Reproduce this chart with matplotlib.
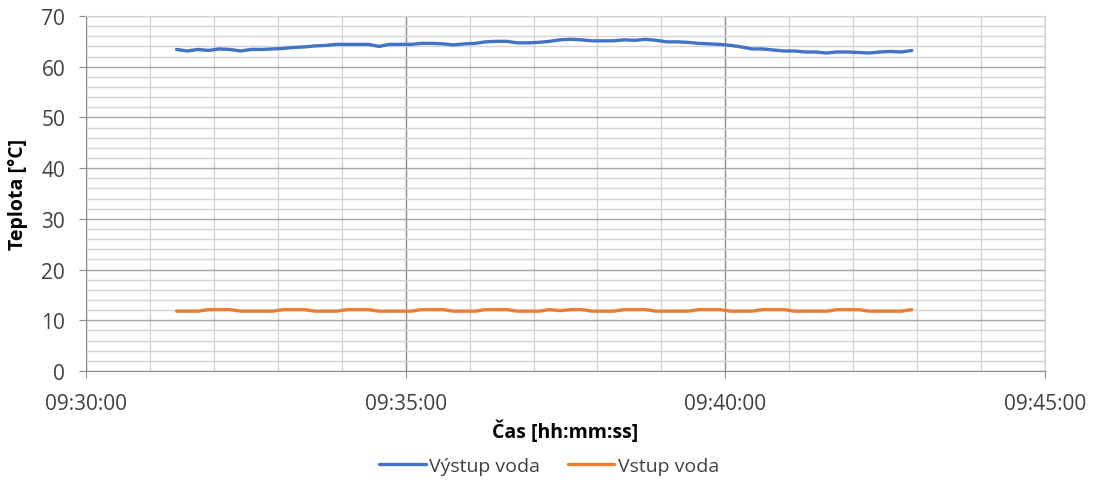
import datetime as dt
import matplotlib
matplotlib.use("Agg")
import matplotlib.pyplot as plt
import matplotlib.dates as mdates

# Data (one sample every 10 s from 09:31:25)
start_time = dt.datetime(2000, 1, 1, 9, 31, 25)
step_s = 10

vystup_voda = [63.4, 63.1, 63.4, 63.2, 63.5, 63.4, 63.1, 63.4, 63.4, 63.5,
               63.6, 63.8, 63.9, 64.1, 64.2, 64.4, 64.4, 64.4, 64.4, 64.0,
               64.4, 64.4, 64.4, 64.6, 64.6, 64.5, 64.3, 64.5, 64.6, 64.9,
               65.0, 65.0, 64.7, 64.7, 64.8, 65.0, 65.3, 65.4, 65.3, 65.1,
               65.1, 65.1, 65.3, 65.2, 65.4, 65.2, 64.9, 64.9, 64.8, 64.6,
               64.5, 64.4, 64.2, 63.9, 63.5, 63.5, 63.3, 63.1, 63.1, 62.9,
               62.9, 62.7, 62.9, 62.9, 62.8, 62.7, 62.9, 63.0, 62.9, 63.2]

vstup_voda = [11.8, 11.8, 11.8, 12.1, 12.1, 12.1, 11.8, 11.8, 11.8, 11.8,
              12.1, 12.1, 12.1, 11.8, 11.8, 11.8, 12.1, 12.1, 12.1, 11.8,
              11.8, 11.8, 11.8, 12.1, 12.1, 12.1, 11.8, 11.8, 11.8, 12.1,
              12.1, 12.1, 11.8, 11.8, 11.8, 12.1, 11.9, 12.1, 12.1, 11.8,
              11.8, 11.8, 12.1, 12.1, 12.1, 11.8, 11.8, 11.8, 11.8, 12.1,
              12.1, 12.1, 11.8, 11.8, 11.8, 12.1, 12.1, 12.1, 11.8, 11.8,
              11.8, 11.8, 12.1, 12.1, 12.1, 11.8, 11.8, 11.8, 11.8, 12.1]

times = [start_time + dt.timedelta(seconds=step_s * i) for i in range(len(vystup_voda))]

plt.rcParams['font.family'] = ['Open Sans', 'DejaVu Sans']

fig = plt.figure(figsize=(10.94, 4.81), dpi=100)
ax = fig.add_axes([0.0786, 0.2266, 0.8766, 0.7381])

ax.plot(times, vystup_voda, color='#4472C4', lw=2.4, label='Výstup voda', solid_capstyle='round')
ax.plot(times, vstup_voda, color='#ED7D31', lw=2.4, label='Vstup voda', solid_capstyle='round')

ax.set_xlim(dt.datetime(2000, 1, 1, 9, 30, 0), dt.datetime(2000, 1, 1, 9, 45, 0))
ax.set_ylim(0, 70)

ax.xaxis.set_major_locator(mdates.MinuteLocator(byminute=range(0, 60, 5)))
ax.xaxis.set_minor_locator(mdates.MinuteLocator())
ax.xaxis.set_major_formatter(mdates.DateFormatter('%H:%M:%S'))
ax.set_yticks(range(0, 71, 10))
ax.set_yticks(range(0, 71, 2), minor=True)

ax.grid(True, which='minor', color='#d4d4d4', lw=1.0)
ax.grid(True, which='major', axis='y', color='#a6a6a6', lw=1.0)
ax.grid(True, which='major', axis='x', color='#8c8c8c', lw=1.0)
ax.set_axisbelow(True)

for side in ['top', 'right']:
    ax.spines[side].set_color('#d4d4d4')
for side in ['left', 'bottom']:
    ax.spines[side].set_color('#8c8c8c')

ax.tick_params(axis='both', which='major', labelsize=15, labelcolor='#404040',
               color='#8c8c8c', length=5)
ax.tick_params(axis='x', which='major', pad=11)
ax.tick_params(axis='y', which='major', pad=10)
ax.tick_params(axis='both', which='minor', length=0)

ax.set_xlabel('Čas [hh:mm:ss]', fontsize=14, fontweight='bold', va='center')
ax.xaxis.set_label_coords(0.5, -0.169)
ax.set_ylabel('Teplota [°C]', fontsize=14, fontweight='bold', va='center')
ax.yaxis.set_label_coords(-0.071, 0.5)

fig.legend(loc='center', bbox_to_anchor=(0.502, 0.029), ncol=2, frameon=False,
           fontsize=14, handlelength=2.4, handletextpad=0.2, columnspacing=1.4,
           labelcolor='#404040')

fig.savefig('out.png', dpi=100)
